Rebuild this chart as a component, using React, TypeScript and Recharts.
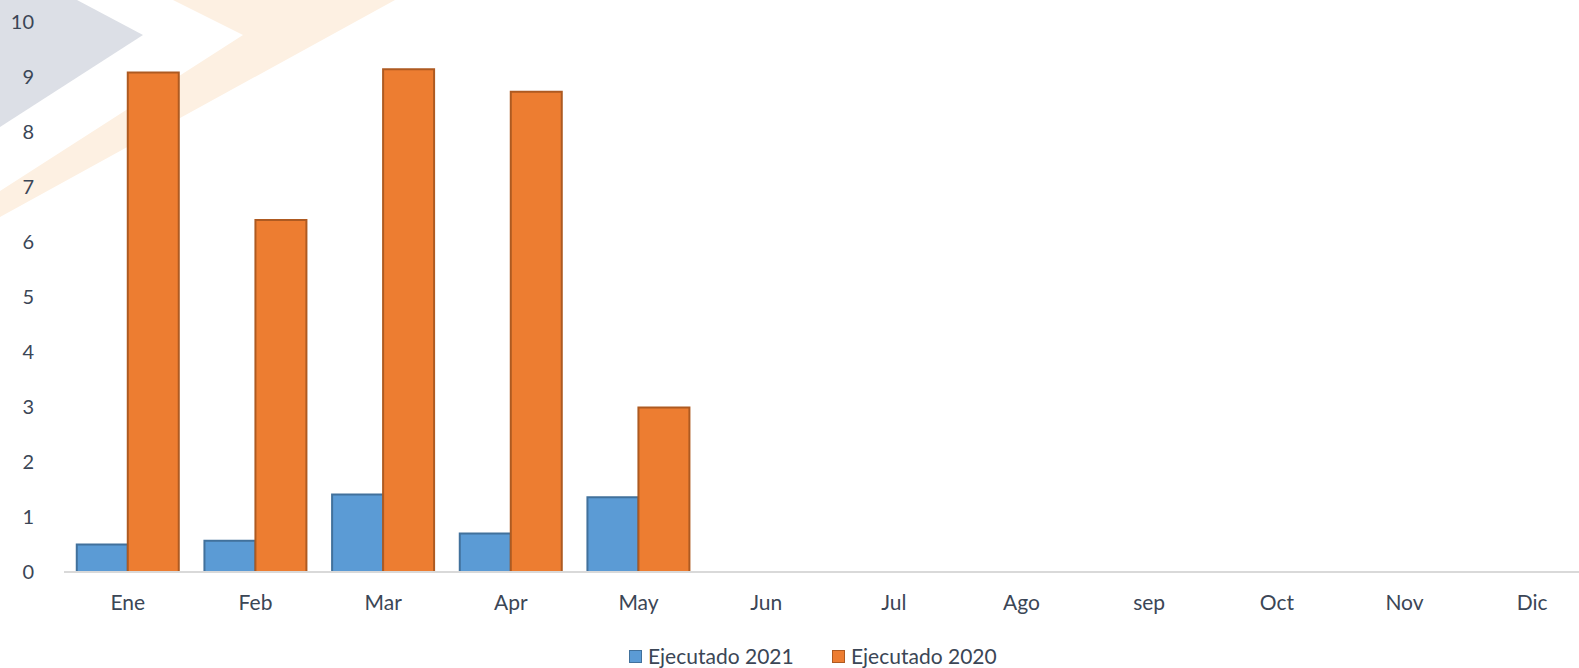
import { BarChart, Bar, XAxis, YAxis, Legend } from 'recharts';

const months = ['Ene', 'Feb', 'Mar', 'Apr', 'May', 'Jun', 'Jul', 'Ago', 'sep', 'Oct', 'Nov', 'Dic'];
const ejecutado2021 = [0.5, 0.57, 1.41, 0.7, 1.36, null, null, null, null, null, null, null];
const ejecutado2020 = [9.08, 6.4, 9.14, 8.73, 2.99, null, null, null, null, null, null, null];
const yTicks = [0, 1, 2, 3, 4, 5, 6, 7, 8, 9, 10];

const BLUE = '#5b9bd5';
const BLUE_EDGE = '#41719c';
const ORANGE = '#ed7d31';
const ORANGE_EDGE = '#ae5a21';
const TEXT = '#3b4656';
const FONT = 'Lato, "Open Sans", sans-serif';

const chartData = months.map((m, i) => ({
    month: m,
    e2021: ejecutado2021[i],
    e2020: ejecutado2020[i],
}));

const legendItems = [
    { label: 'Ejecutado 2021', fill: BLUE, edge: BLUE_EDGE, left: 629 },
    { label: 'Ejecutado 2020', fill: ORANGE, edge: ORANGE_EDGE, left: 832 },
];

// legend drawn as two fixed items, Excel-style
const LegendContent = () => (
    <div style={{ position: 'relative', height: 40, fontFamily: FONT, fontSize: 21, color: TEXT }}>
        {legendItems.map(item => (
            <div key={item.label} style={{ position: 'absolute', left: item.left, top: 17, height: 22, display: 'flex', alignItems: 'center' }}>
                <span style={{ width: 11, height: 11, background: item.fill, border: `1.5px solid ${item.edge}`, marginRight: 6, display: 'inline-block' }} />
                <span style={{ lineHeight: '22px' }}>{item.label}</span>
            </div>
        ))}
    </div>
);

export default function App() {
    return (
        <div style={{ position: 'absolute', top: 0, left: 0, width: 1579, height: 668, overflow: 'hidden', background: '#fff' }}>
            {/* faded chevrons in the corner */}
            <svg width={420} height={240} style={{ position: 'absolute', top: 0, left: 0 }}>
                <polygon points="0,0 77,0 143,35 0,127" fill="#dcdfe6" />
                <polygon points="173,0 395,0 0,217 0,191 243,35" fill="#fdf0e2" />
            </svg>
            <div style={{ position: 'absolute', top: 0, left: 0 }}>
                <BarChart
                    width={1596}
                    height={668}
                    data={chartData}
                    margin={{ top: 22, right: 0, bottom: 0, left: 0 }}
                    barCategoryGap="10%"
                    barGap={0}
                >
                    <XAxis
                        dataKey="month"
                        interval={0}
                        height={56}
                        tickLine={false}
                        tickSize={0}
                        tickMargin={23}
                        axisLine={{ stroke: '#d9d9d9', strokeWidth: 2 }}
                        tick={{ fill: TEXT, fontSize: 21, fontFamily: FONT }}
                    />
                    <YAxis
                        domain={[0, 10]}
                        ticks={yTicks}
                        width={64}
                        axisLine={false}
                        tickLine={false}
                        tickSize={0}
                        tickMargin={30}
                        tick={{ fill: TEXT, fontSize: 20, fontFamily: FONT }}
                    />
                    <Legend verticalAlign="bottom" content={<LegendContent />} />
                    <Bar dataKey="e2021" name="Ejecutado 2021" fill={BLUE} stroke={BLUE_EDGE} strokeWidth={2} isAnimationActive={false} />
                    <Bar dataKey="e2020" name="Ejecutado 2020" fill={ORANGE} stroke={ORANGE_EDGE} strokeWidth={2} isAnimationActive={false} />
                </BarChart>
            </div>
        </div>
    );
}
